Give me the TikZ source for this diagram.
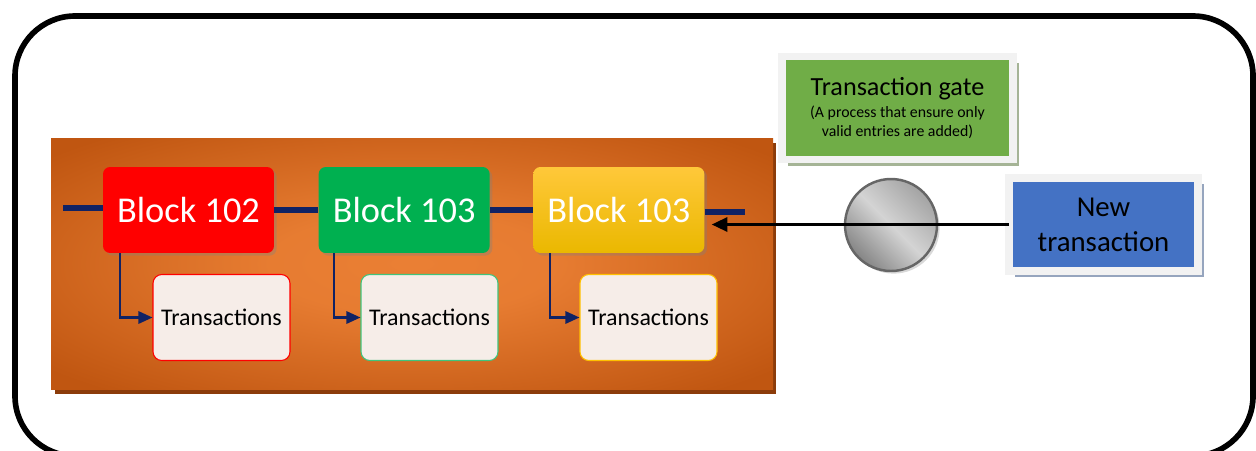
\documentclass[tikz,border=0pt]{standalone}
\usepackage{fontspec}
\setmainfont{Carlito}
\usepackage{xcolor}
\usepackage{tikz}
\usetikzlibrary{positioning,calc,shadows,arrows.meta}
\definecolor{chainred}{RGB}{255, 0, 0}
\definecolor{chaingreen}{RGB}{0, 176, 80}
\definecolor{chaingold}{RGB}{255, 192, 0}
\definecolor{chaingoldtop}{RGB}{255, 200, 58}
\definecolor{chaingoldbot}{RGB}{234, 184, 0}
\definecolor{chainnavy}{RGB}{16, 34, 100}
\definecolor{panellight}{RGB}{234, 127, 52}
\definecolor{paneldark}{RGB}{192, 86, 17}
\definecolor{panelshade}{RGB}{140, 60, 10}
\definecolor{txfill}{RGB}{246, 237, 232}
\definecolor{gatefill}{RGB}{112, 173, 71}
\definecolor{gateshade}{RGB}{165, 180, 150}
\definecolor{newfill}{RGB}{68, 114, 196}
\definecolor{newshade}{RGB}{150, 165, 190}
\definecolor{paperframe}{RGB}{242, 242, 242}
\pgfdeclareradialshading{panelglow}{\pgfpoint{0bp}{0bp}}{color(0bp)=(panellight); color(10bp)=(panellight!92!paneldark); color(33bp)=(paneldark); color(50bp)=(paneldark)}

\begin{document}
\begin{tikzpicture}[x=0.02cm, y=-0.02cm, >={Triangle[length=8pt,width=7pt]},
    blockbox/.style={rectangle, rounded corners=4pt, minimum width=3.42cm, minimum height=1.72cm, inner sep=0pt, text=white, font=\fontsize{20.7}{24}\selectfont, drop shadow={shadow xshift=1.5pt, shadow yshift=-1.5pt, opacity=0.35}},
    txbox/.style={rectangle, rounded corners=5pt, fill=txfill, line width=0.6pt, minimum width=2.74cm, minimum height=1.72cm, inner sep=0pt, font=\fontsize{13.6}{16}\selectfont},
    chainlink/.style={chainnavy, line width=3.2pt},
    txlink/.style={->, chainnavy, line width=1.3pt},
    framedbox/.style={rectangle, draw=paperframe, line width=4.3pt, inner sep=0pt, align=center}]
    \useasboundingbox (0,0) rectangle (1256,450);

    % Outer frame
    \draw[line width=3.2pt, rounded corners=1.2cm] (15,16) rectangle (1253,456);

    % Ledger panel and its shadow
    \fill[panelshade] (55,143) rectangle (776,394);
    \shade[shading=panelglow] (51,138) rectangle (773,389);

    % Blocks of the chain
    \node[blockbox, fill=chainred] (b102) at (188.5,210) {Block 102};
    \node[blockbox, fill=chaingreen, right=0.88cm of b102] (b103) {Block 103};
    \node[blockbox, top color=chaingoldtop, bottom color=chaingoldbot, right=0.86cm of b103] (b103b) {Block 103};

    % Transaction lists under each block
    \node[txbox, draw=chainred] (tx102) at (221.5,317.5) {Transactions};
    \node[txbox, draw=chaingreen!75] (tx103) at (429.5,317.5) {Transactions};
    \node[txbox, draw=chaingold] (tx103b) at (648.5,317.5) {Transactions};

    % Links along the chain
    \coordinate (chainin) at (63,208);
    \coordinate (chainout) at (745,212);
    \draw[chainlink] (chainin) -- (chainin -| b102.west);
    \draw[chainlink] (b102.east) -- (b103.west);
    \draw[chainlink] (b103.east) -- (b103b.west);
    \draw[chainlink] (b103b.east |- chainout) -- (chainout);

    % Each block points to its transactions
    \draw[txlink] ($(b102.south west)+(17,0)$) |- (tx102.west);
    \draw[txlink] ($(b103.south west)+(16,0)$) |- (tx103.west);
    \draw[txlink] ($(b103b.south west)+(17,0)$) |- (tx103b.west);

    % Gate and the incoming transaction
    \node[framedbox, fill=gatefill, minimum width=4.62cm, minimum height=2.06cm, font=\fontsize{9}{10.8}\selectfont, drop shadow={shadow xshift=3.5pt, shadow yshift=-3.5pt, fill=gateshade, opacity=1}] (gatebox) at (897.5,108)
        {{\fontsize{14.9}{18}\selectfont Transaction gate}\\[1.5pt] (A process that ensure only\\ valid entries are added)};
    \node[framedbox, fill=newfill, minimum width=3.79cm, minimum height=1.85cm, font=\fontsize{16.4}{19.8}\selectfont, drop shadow={shadow xshift=3.5pt, shadow yshift=-3.5pt, fill=newshade, opacity=1}] (newtx) at (1103.5,224.5) {New\\transaction};
    \node[circle, draw=black!60, line width=1.4pt, minimum size=1.84cm, top color=black!36, bottom color=black!48, middle color=black!17, shading angle=-45, drop shadow={shadow xshift=1.5pt, shadow yshift=-1.5pt, opacity=0.3}] (gate) at (891,225) {};

    % Incoming edge
    \draw[->, line width=1.8pt, >={Triangle[length=9pt,width=8pt]}, shorten >=0.14cm] ($(newtx.west)+(4,0)$) -- (newtx.west -| b103b.east);
\end{tikzpicture}
\end{document}
